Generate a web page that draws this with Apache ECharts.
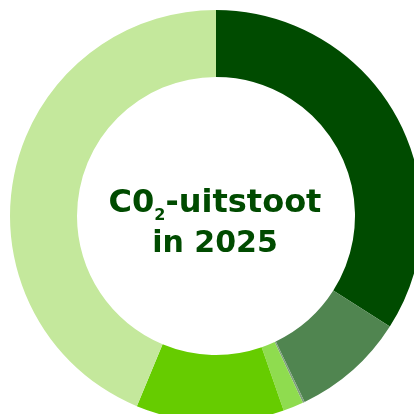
<!DOCTYPE html>
<html>
<head>
<meta charset="utf-8">
<script src="https://cdn.jsdelivr.net/npm/echarts@6/dist/echarts.min.js"></script>
<style>
html,body{margin:0;padding:0;background:#fff;}
#c{width:414px;height:414px;}
</style>
</head>
<body>
<div id="c"></div>
<script>
var categories = ['Categorie 1', 'Categorie 2', 'Categorie 3', 'Categorie 4', 'Categorie 5', 'Categorie 6'];
var values = [34.0, 8.9, 0.15, 1.6, 11.6, 43.7];
var colors = ['#004b00', '#508550', '#7f9f7f', '#8fdc4f', '#66cc00', '#c4e89c'];
var titleMain = 'C0';
var titleSub = '2';
var titleRest = '-uitstoot';
var titleLine2 = 'in 2025';

var chart = echarts.init(document.getElementById('c'), null, {renderer: 'canvas'});
var data = categories.map(function (n, i) {
  return {name: n, value: values[i], itemStyle: {color: colors[i]}};
});
chart.setOption({
  animation: false,
  series: [{
    type: 'pie',
    center: [216, 216],
    radius: [139, 206],
    startAngle: 90,
    clockwise: true,
    label: {show: false},
    labelLine: {show: false},
    emphasis: {disabled: true},
    itemStyle: {borderWidth: 0},
    data: data
  }],
  graphic: [{
    type: 'text',
    x: 215,
    y: 224,
    style: {
      text: '{m|' + titleMain + '}{s|' + titleSub + '}{m|' + titleRest + '}\n{n|' + titleLine2 + '}',
      align: 'center',
      verticalAlign: 'middle',
      fill: '#004b00',
      rich: {
        m: {fontFamily: 'DejaVu Sans', fontWeight: 'bold', fontSize: 32, lineHeight: 41, fill: '#004b00', textStroke: '#004b00', textStrokeWidth: 0.6},
        s: {fontFamily: 'DejaVu Sans', fontWeight: 'bold', fontSize: 16, lineHeight: 25, verticalAlign: 'bottom', fill: '#004b00', textStroke: '#004b00', textStrokeWidth: 0.6},
        n: {fontFamily: 'DejaVu Sans', fontWeight: 'bold', fontSize: 30, lineHeight: 41, fill: '#004b00', textStroke: '#004b00', textStrokeWidth: 0.6}
      }
    }
  }]
});
</script>
</body>
</html>
